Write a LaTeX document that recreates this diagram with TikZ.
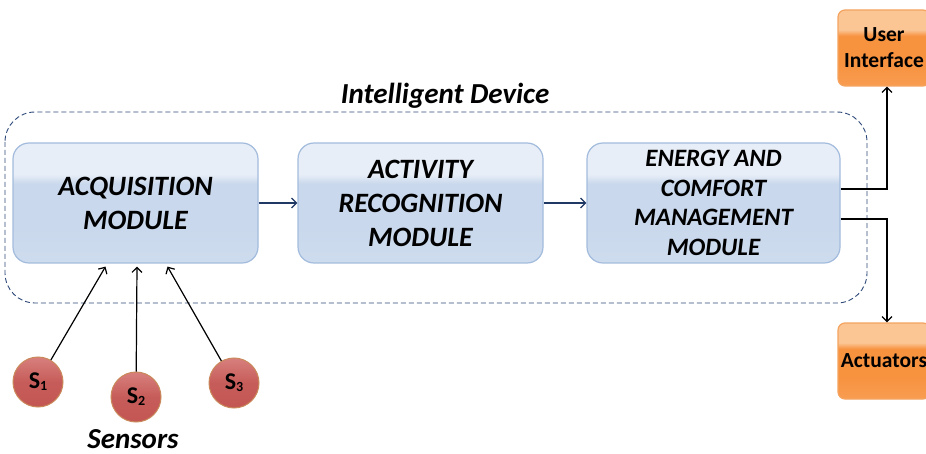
\documentclass[tikz,border=0pt]{standalone}
\usepackage{fontspec}
\setmainfont{Carlito}
\usetikzlibrary{arrows.meta,positioning}
\definecolor{bluebd}{HTML}{A3BCDD}
\definecolor{bluetop}{HTML}{E8EEF7}
\definecolor{bluemid}{HTML}{C9D8EC}
\definecolor{bluebot}{HTML}{D6E2F1}
\definecolor{orgbd}{HTML}{F4A460}
\definecolor{orgtop}{HTML}{FBC594}
\definecolor{orgmid}{HTML}{F7923F}
\definecolor{orgbot}{HTML}{FAAE6E}
\definecolor{redtop}{HTML}{E9A3A1}
\definecolor{redbot}{HTML}{C0504D}
\definecolor{redbd}{HTML}{C9895A}
\definecolor{dashc}{HTML}{2F4A7A}
\definecolor{arrc}{HTML}{1F3864}
\pgfdeclareverticalshading{glossblue}{100bp}{color(0bp)=(bluebot); color(40bp)=(bluemid); color(58bp)=(bluemid); color(62bp)=(bluetop); color(100bp)=(bluetop)}
\pgfdeclareverticalshading{glossorg}{100bp}{color(0bp)=(orgbot); color(40bp)=(orgmid); color(58bp)=(orgmid); color(62bp)=(orgtop); color(100bp)=(orgtop)}
\pgfdeclareverticalshading{ballred}{100bp}{color(0bp)=(redbot); color(50bp)=(redbot!85!redtop); color(100bp)=(redtop)}
\begin{document}
\begin{tikzpicture}[x=1pt,y=-1pt,
  module/.style={draw=bluebd, line width=1.2pt, rounded corners=16pt, shading=glossblue,
     minimum height=120pt, align=center, inner sep=0pt},
  modtext/.style={font=\fontsize{28}{34}\selectfont\bfseries\itshape},
  obox/.style={draw=orgbd, line width=1.2pt, rounded corners=7pt, shading=glossorg,
     minimum width=92pt, minimum height=76pt, align=center, inner sep=0pt,
     font=\fontsize{21.5}{26}\selectfont\bfseries},
  sensor/.style={circle, draw=redbd, line width=1pt, shading=ballred, minimum size=50pt, inner sep=0pt},
  flow/.style={draw=arrc, line width=1.2pt, -{Straight Barb[length=5pt,width=10pt]}},
  blk/.style={draw=black, line width=1.2pt, -{Straight Barb[length=5pt,width=10pt]}},
  lbl/.style={inner sep=0pt, font=\fontsize{29}{30}\selectfont\bfseries\itshape}]
\useasboundingbox (0,0) rectangle (926,454);
\clip (0,0) rectangle (926,454);
\fill[white] (0,0) rectangle (926,454);
% container
\draw[dashc, line width=0.9pt, dash pattern=on 5pt off 3pt, rounded corners=30pt] (5,112) rectangle (867,303);
\node[lbl] (title) at (445,96) {Intelligent Device};
% modules
\node[module, minimum width=245pt, modtext] (acq) at (135.5,203) {ACQUISITION\\MODULE};
\node[module, minimum width=245pt, modtext] (act) at (420.5,203) {ACTIVITY\\RECOGNITION\\MODULE};
\node[module, minimum width=253pt, font=\fontsize{25}{29.5}\selectfont\bfseries\itshape] (ecm) at (713.5,203) {ENERGY AND\\COMFORT\\MANAGEMENT\\MODULE};
% output boxes
\node[obox] (ui) at (884,48) {User\\Interface};
\node[obox] (actu) at (884,361) {Actuators};
% flow arrows
\draw[flow] (acq.east) -- (act.west);
\draw[flow] (act.east) -- (ecm.west);
\coordinate (c1) at (887,189);
\coordinate (c2) at (887,219);
\draw[blk] ([yshift=14pt]ecm.east) -- (c1) -- (ui.south -| c1);
\draw[blk] ([yshift=-16pt]ecm.east) -- (c2) -- (actu.north -| c2);
% sensors
\node[sensor] (s1) at (38,382) {\fontsize{24}{24}\selectfont\bfseries S\raisebox{-2pt}{\fontsize{14}{14}\selectfont 1}};
\node[sensor] (s2) at (136,397) {\fontsize{24}{24}\selectfont\bfseries S\raisebox{-2pt}{\fontsize{14}{14}\selectfont 2}};
\node[sensor] (s3) at (234,383) {\fontsize{24}{24}\selectfont\bfseries S\raisebox{-2pt}{\fontsize{14}{14}\selectfont 3}};
\coordinate (e1) at ([xshift=-30pt,yshift=-3pt]acq.south);
\coordinate (e2) at ([xshift=1.5pt,yshift=-3pt]acq.south);
\coordinate (e3) at ([xshift=32pt,yshift=-3pt]acq.south);
\draw[blk] (s1) -- (e1);
\draw[blk] (s2) -- (e2);
\draw[blk] (s3) -- (e3);
\node[lbl] (sens) at (133,439) {Sensors};
\end{tikzpicture}
\end{document}
